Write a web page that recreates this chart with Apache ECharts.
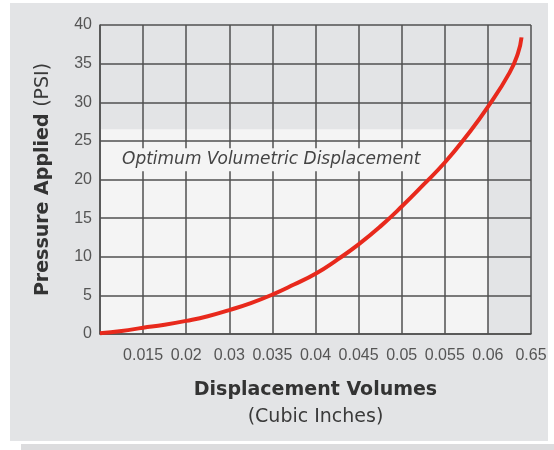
<!DOCTYPE html>
<html>
<head>
<meta charset="utf-8">
<title>Pressure vs Displacement</title>
<script src="https://cdn.jsdelivr.net/npm/echarts@6/dist/echarts.min.js"></script>
<style>
  html, body { margin: 0; padding: 0; background: #ffffff; }
  #chart { width: 554px; height: 450px; }
</style>
</head>
<body>
<div id="chart"></div>
<script>
// tick labels on the x axis, one per vertical grid line (grid line 0 has none)
const xLabels = ['', '0.015', '0.02', '0.03', '0.035', '0.04', '0.045', '0.05', '0.055', '0.06', '0.65'];
// curve: position in grid steps, pressure in PSI
const curvePos = [0, 0.5, 1, 1.5, 2, 2.5, 3, 3.5, 4, 4.5, 5, 5.5, 6, 6.5, 7, 7.5, 8, 8.5, 9, 9.5, 9.7, 9.78];
const curvePsi = [0.1, 0.4, 0.8, 1.2, 1.7, 2.3, 3.1, 4.0, 5.1, 6.4, 7.8, 9.6, 11.6, 13.9, 16.5, 19.3, 22.2, 25.6, 29.4, 33.8, 36.4, 38.4];
// light "optimum" zone
const zoneX = [0, 9];
const zoneY = [0, 26.5];
const zoneText = 'Optimum Volumetric Displacement';

let myChart = echarts.init(document.getElementById('chart'));

const curve = curvePos.map((p, i) => [p, curvePsi[i]]);
const gridColor = '#505050';
const zoneData = [[{ xAxis: zoneX[0], yAxis: zoneY[1] }, { xAxis: zoneX[1], yAxis: zoneY[0] }]];

const option = {
	// panel grey, white frame drawn on top with graphic
	backgroundColor: '#e3e4e6',
	animation: false,
	graphic: [
		{ type: 'rect', z: 100, shape: { x: 0, y: 0, width: 554, height: 3 }, style: { fill: '#ffffff' } },
		{ type: 'rect', z: 100, shape: { x: 0, y: 0, width: 10, height: 450 }, style: { fill: '#ffffff' } },
		{ type: 'rect', z: 100, shape: { x: 548, y: 0, width: 6, height: 450 }, style: { fill: '#ffffff' } },
		{ type: 'rect', z: 100, shape: { x: 0, y: 441, width: 554, height: 9 }, style: { fill: '#ffffff' } },
		{ type: 'rect', z: 101, shape: { x: 21, y: 444, width: 533, height: 6 }, style: { fill: '#dcdcde' } }
	],
	grid: { left: 100, right: 23, top: 25, bottom: 116 },
	xAxis: {
		type: 'value',
		z: 3,
		min: 0,
		max: 10,
		interval: 1,
		name: '{b|Displacement Volumes}\n{r|(Cubic Inches)}',
		nameLocation: 'middle',
		nameGap: 42,
		nameTextStyle: {
			rich: {
				b: { fontFamily: 'DejaVu Sans', fontWeight: 'bold', fontSize: 19, color: '#333', lineHeight: 28, align: 'center' },
				r: { fontFamily: 'DejaVu Sans', fontSize: 19, color: '#3a3a3a', lineHeight: 26, align: 'center' }
			}
		},
		axisLine: { show: true, lineStyle: { color: gridColor, width: 1.5 } },
		axisTick: { show: false },
		axisLabel: {
			margin: 14,
			fontFamily: 'Liberation Sans',
			fontSize: 16,
			color: '#555',
			formatter: v => xLabels[v] || ''
		},
		splitLine: { show: true, lineStyle: { color: gridColor, width: 1.5 } }
	},
	yAxis: {
		type: 'value',
		z: 3,
		min: 0,
		max: 40,
		interval: 5,
		name: '{b|Pressure Applied }{r|(PSI)}',
		nameLocation: 'middle',
		nameGap: 47,
		nameTextStyle: {
			rich: {
				b: { fontFamily: 'DejaVu Sans', fontWeight: 'bold', fontSize: 19, color: '#333' },
				r: { fontFamily: 'DejaVu Sans', fontSize: 19, color: '#3a3a3a' }
			}
		},
		axisLine: { show: true, lineStyle: { color: gridColor, width: 1.5 } },
		axisTick: { show: false },
		axisLabel: {
			margin: 8,
			fontFamily: 'Liberation Sans',
			fontSize: 16,
			color: '#555',
			padding: [0, 0, 6, 0]
		},
		splitLine: { show: true, lineStyle: { color: gridColor, width: 1.5 } }
	},
	series: [
		{
			// light zone, kept under the grid lines (axes use z 3)
			type: 'line',
			data: [],
			silent: true,
			markArea: {
				z: 1,
				silent: true,
				itemStyle: { color: '#f4f4f4' },
				data: zoneData
			}
		},
		{
			// zone caption, above the grid lines with its own light backing
			type: 'line',
			data: [],
			silent: true,
			markArea: {
				z: 4,
				silent: true,
				itemStyle: { color: 'rgba(0,0,0,0)' },
				label: {
					show: true,
					position: [19, 19],
					padding: [3, 3, 3, 3],
					backgroundColor: '#f4f4f4',
					fontFamily: 'DejaVu Sans',
					fontStyle: 'italic',
					fontSize: 17,
					color: '#444',
					formatter: zoneText
				},
				data: zoneData
			}
		},
		{
			type: 'line',
			data: curve,
			smooth: true,
			symbol: 'none',
			z: 5,
			lineStyle: { color: '#e8291c', width: 4 }
		}
	]
};

myChart.setOption(option);
</script>
</body>
</html>
